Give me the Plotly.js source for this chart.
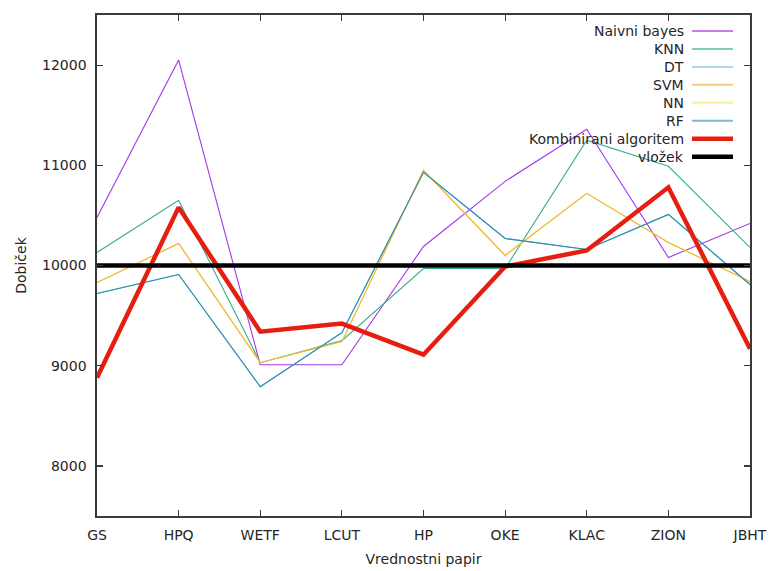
<!DOCTYPE html>
<html>
<head>
<meta charset="utf-8">
<script src="https://cdn.plot.ly/plotly-3.0.1.min.js"></script>
<style>html,body{margin:0;padding:0;background:#fff;}#chart{width:769px;height:571px;}</style>
</head>
<body>
<div id="chart"></div>
<script>
const categories = ['GS', 'HPQ', 'WETF', 'LCUT', 'HP', 'OKE', 'KLAC', 'ZION', 'JBHT'];
const naivniBayes = [10480, 12050, 9010, 9010, 10190, 10840, 11360, 10080, 10420];
const knn = [10130, 10650, 9030, 9250, 9970, 9970, 11250, 10990, 10180];
const dt = [9720, 9910, 8790, 9330, 10930, 10270, 10160, 10510, 9810];
const svm = [9830, 10220, 9030, 9240, 10950, 10100, 10720, 10230, 9840];
const nn = [9830, 10220, 9030, 9240, 10950, 10100, 10720, 10230, 9840];
const rf = [9720, 9910, 8790, 9330, 10930, 10270, 10160, 10510, 9810];
const kombinirani = [8880, 10580, 9340, 9420, 9110, 9990, 10150, 10780, 9170];
const vlozek = [10000, 10000, 10000, 10000, 10000, 10000, 10000, 10000, 10000];
const yTicks = [8000, 9000, 10000, 11000, 12000];

// series: name, data, line colour, legend colour, width; drawing order (NN under SVM, DT under RF)
const series = [
  {name: 'Naivni bayes', y: naivniBayes, color: '#a536ec', lcolor: '#9400d3', w: 1.1, lw: 2, op: 0.5, rank: 1},
  {name: 'KNN', y: knn, color: '#37ad8c', lcolor: '#009e73', w: 1.1, lw: 2, op: 0.5, rank: 2},
  {name: 'DT', y: dt, color: '#56b4e9', lcolor: '#56b4e9', w: 1.1, lw: 2, op: 0.5, rank: 3},
  {name: 'NN', y: nn, color: '#f0e442', lcolor: '#f0e442', w: 1.1, lw: 2, op: 0.5, rank: 5},
  {name: 'SVM', y: svm, color: '#eeb43e', lcolor: '#e69f00', w: 1.1, lw: 2, op: 0.5, rank: 4},
  {name: 'RF', y: rf, color: '#2f8ea6', lcolor: '#0072b2', w: 1.1, lw: 2, op: 0.5, rank: 6},
  {name: 'Kombinirani algoritem', y: kombinirani, color: '#e51e10', lcolor: '#e51e10', w: 4.5, lw: 4.5, op: 1, rank: 7},
  {name: 'vložek', y: vlozek, color: '#000000', lcolor: '#000000', w: 4.5, lw: 4.5, op: 1, rank: 8}
];

const traces = series.map(s => ({
  type: 'scatter', mode: 'lines', name: s.name,
  x: categories, y: s.y,
  line: {color: s.color, width: s.w},
  showlegend: false, hoverinfo: 'skip'
}));

// plot area in pixels
const W = 769, H = 571, L = 97, R = 19, T = 15, B = 55;
const pw = W - L - R, ph = H - T - B;
const px = x => (x - L) / pw;
const py = y => (H - B - y) / ph;

const legendOrder = series.slice().sort((a, b) => a.rank - b.rank);
const annotations = [];
const shapes = [];
legendOrder.forEach((s, i) => {
  const yy = 31 + i * 17.95;
  annotations.push({
    xref: 'paper', yref: 'paper', x: px(686), y: py(yy),
    xanchor: 'right', yanchor: 'middle', showarrow: false,
    text: s.name, font: {family: 'DejaVu Sans', size: 14, color: '#262626'}
  });
  shapes.push({
    type: 'line', xref: 'paper', yref: 'paper',
    x0: px(692), x1: px(733), y0: py(yy), y1: py(yy),
    line: {color: s.lcolor, width: s.lw}, opacity: s.op, layer: 'above'
  });
});

const axisCommon = {
  showline: true, linecolor: '#3a3a3a', linewidth: 1.6, mirror: 'ticks',
  ticks: 'inside', ticklen: 6, tickwidth: 1.2, tickcolor: '#3a3a3a',
  showgrid: false, zeroline: false, fixedrange: true
};

const layout = {
  width: W, height: H,
  margin: {l: L, r: R, t: T, b: B},
  paper_bgcolor: '#ffffff', plot_bgcolor: '#ffffff',
  showlegend: false,
  xaxis: Object.assign({}, axisCommon, {
    type: 'category', range: [0, categories.length - 1],
    tickfont: {family: 'DejaVu Sans', size: 14, color: '#262626'},
    ticklabelstandoff: 6,
    title: {text: 'Vrednostni papir', font: {family: 'DejaVu Sans', size: 14, color: '#262626'}, standoff: 12}
  }),
  yaxis: Object.assign({}, axisCommon, {
    range: [7500, 12500], tickvals: yTicks, ticktext: yTicks.map(String),
    tickfont: {family: 'DejaVu Sans', size: 14, color: '#262626'},
    ticklabelstandoff: 6,
    title: {text: 'Dobiček', font: {family: 'DejaVu Sans', size: 14, color: '#262626'}, standoff: 12}
  }),
  annotations: annotations,
  shapes: shapes
};

Plotly.newPlot('chart', traces, layout, {displayModeBar: false, staticPlot: true});
</script>
</body>
</html>
